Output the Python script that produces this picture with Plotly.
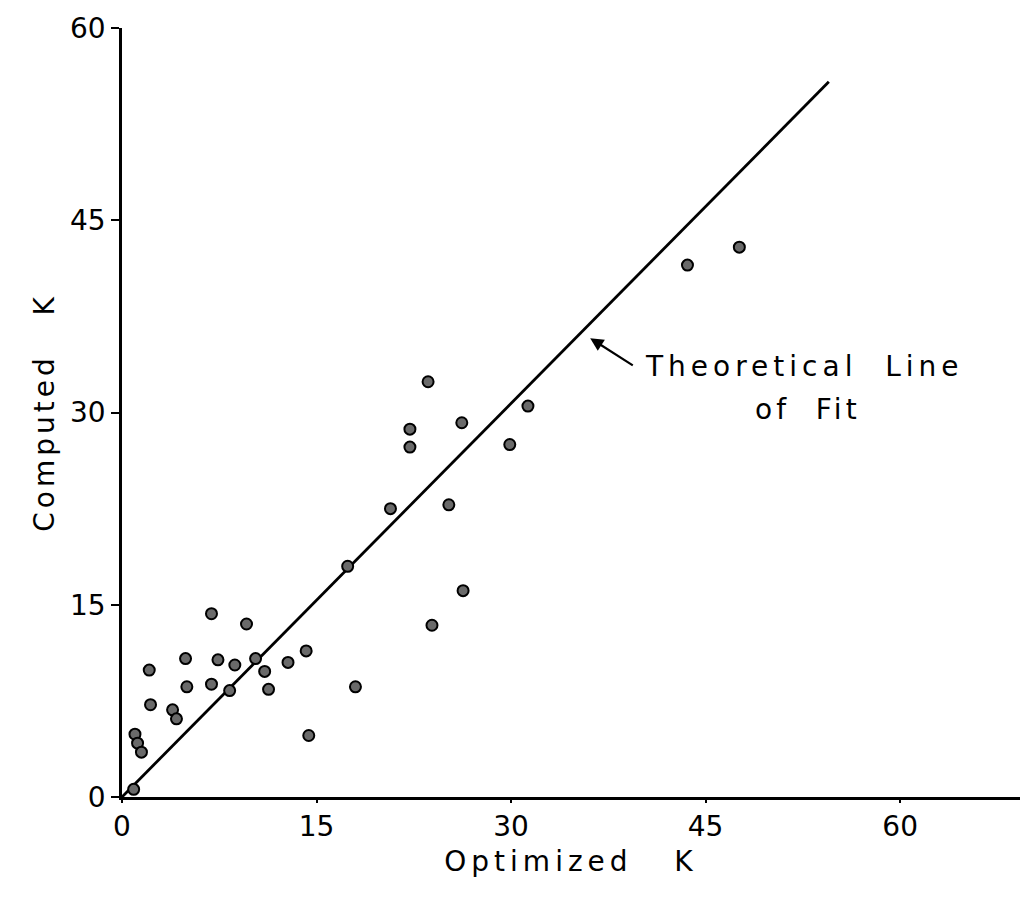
import plotly.graph_objects as go

# Data (Optimized K vs Computed K)
optimized_k = [0.9, 1.0, 1.2, 1.5, 2.1, 2.2, 3.9, 4.2, 4.9, 5.0, 6.9, 6.9, 7.4,
               8.3, 8.7, 9.6, 10.3, 11.0, 11.3, 12.8, 14.2, 14.4, 17.4, 18.0,
               20.7, 22.2, 22.2, 23.6, 23.9, 25.2, 26.2, 26.3, 29.9, 31.3,
               43.6, 47.6]
computed_k = [0.6, 4.9, 4.2, 3.5, 9.9, 7.2, 6.8, 6.1, 10.8, 8.6, 14.3, 8.8, 10.7,
              8.3, 10.3, 13.5, 10.8, 9.8, 8.4, 10.5, 11.4, 4.8, 18.0, 8.6,
              22.5, 28.7, 27.3, 32.4, 13.4, 22.8, 29.2, 16.1, 27.5, 30.5,
              41.5, 42.9]

line_x = [0, 54.5]
line_y = [0, 55.8]

x_ticks = [0, 15, 30, 45, 60]
y_ticks = [0, 15, 30, 45, 60]

FONT = "DejaVu Sans"
NB = "\u00a0"


def spaced(s, px):
    return "<span style='letter-spacing:%dpx'>%s</span>" % (px, s)


fig = go.Figure()
fig.add_trace(go.Scatter(x=line_x, y=line_y, mode="lines",
                         line=dict(color="black", width=2.8), showlegend=False,
                         hoverinfo="skip"))
fig.add_trace(go.Scatter(x=optimized_k, y=computed_k, mode="markers",
                         marker=dict(size=11, color="#6a6a6a",
                                     line=dict(color="black", width=2)),
                         showlegend=False))

fig.add_annotation(x=36.1, y=35.8, ax=39.5, ay=33.6, axref="x", ayref="y",
                   xref="x", yref="y", text="", showarrow=True,
                   arrowhead=2, arrowsize=1.2, arrowwidth=2.2, arrowcolor="black")
fig.add_annotation(x=52.6, y=33.6, xref="x", yref="y", showarrow=False,
                   text=spaced("Theoretical" + NB + NB + "Line", 5),
                   font=dict(family=FONT, size=28, color="black"))
fig.add_annotation(x=52.9, y=30.25, xref="x", yref="y", showarrow=False,
                   text=spaced("of" + NB + NB + "Fit", 4),
                   font=dict(family=FONT, size=28, color="black"))

fig.update_xaxes(range=[0, 69.24], tickvals=x_ticks, ticktext=[str(v) for v in x_ticks],
                 showgrid=False, zeroline=False, showline=True, linecolor="black",
                 linewidth=2.5, ticks="outside", ticklen=3, tickwidth=2,
                 tickcolor="black", tickfont=dict(family=FONT, size=28, color="black"),
                 title=dict(text=spaced("Optimized" + NB * 3 + "K", 5),
                            font=dict(family=FONT, size=28, color="black"),
                            standoff=10))
fig.update_yaxes(range=[0, 60], tickvals=y_ticks, ticktext=[str(v) for v in y_ticks],
                 showgrid=False, zeroline=False, showline=True, linecolor="black",
                 linewidth=2.5, ticks="outside", ticklen=8, tickwidth=2,
                 tickcolor="black", tickfont=dict(family=FONT, size=28, color="black"),
                 title=dict(text=spaced("Computed" + NB * 3 + "K", 4),
                            font=dict(family=FONT, size=28, color="black"),
                            standoff=8))

fig.update_layout(width=1020, height=900, margin=dict(l=122, r=0, t=28, b=103),
                  plot_bgcolor="white", paper_bgcolor="white")

fig.write_html("out.html")
